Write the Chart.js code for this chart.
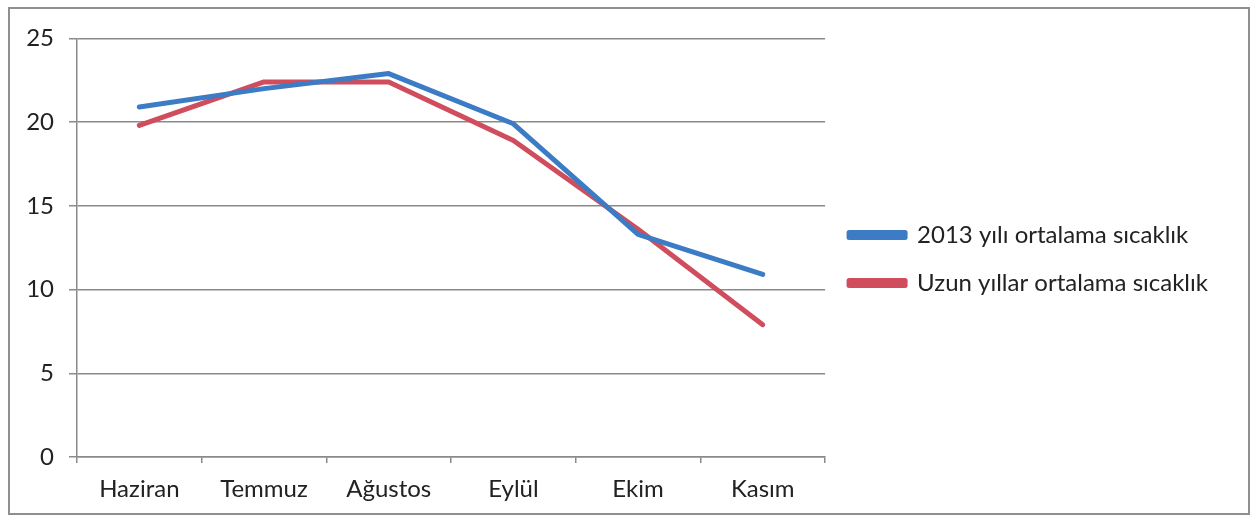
<!DOCTYPE html>
<html>
<head>
<meta charset="utf-8">
<script src="https://cdn.jsdelivr.net/npm/chart.js@4/dist/chart.umd.min.js"></script>
<style>
  html, body { margin: 0; padding: 0; background: #fff; }
  #frame {
    position: absolute; left: 8px; top: 7px;
    width: 1238px; height: 504px;
    border: 2px solid #8f8f8f;
  }
  canvas { display: block; }
</style>
</head>
<body>
<div id="frame"><canvas id="tempChart" width="1238" height="504"></canvas></div>
<script>
  // categories and series
  const months = ['Haziran', 'Temmuz', 'Ağustos', 'Eylül', 'Ekim', 'Kasım'];
  const avg2013 = [20.9, 22.0, 22.9, 19.9, 13.3, 10.9];
  const longTermAvg = [19.8, 22.4, 22.4, 18.9, 13.6, 7.9];
  const yTicks = [0, 5, 10, 15, 20, 25];

  const gridGray = '#8a8a8a';
  const textFont = { family: 'Lato', size: 24 };

  new Chart(document.getElementById('tempChart'), {
    type: 'line',
    data: {
      labels: months,
      datasets: [
        {
          label: '2013 yılı ortalama sıcaklık',
          data: avg2013,
          borderColor: '#3b7cc4',
          backgroundColor: '#3b7cc4',
          borderWidth: 5,
          pointRadius: 0,
          tension: 0,
          borderCapStyle: 'round',
          borderJoinStyle: 'round'
        },
        {
          label: 'Uzun yıllar ortalama sıcaklık',
          data: longTermAvg,
          borderColor: '#cf4d5d',
          backgroundColor: '#d46a7a',
          borderWidth: 5,
          pointRadius: 0,
          tension: 0,
          borderCapStyle: 'round',
          borderJoinStyle: 'round'
        }
      ]
    },
    options: {
      responsive: false,
      animation: false,
      layout: { padding: { top: 29, left: 10, right: 30, bottom: 0 } },
      plugins: {
        tooltip: { enabled: false },
        legend: {
          position: 'right',
          align: 'start',
          maxWidth: 500,
          // empty title only used to push the two rows down to mid height
          title: { display: true, text: ' ', font: { size: 10 }, padding: { top: 149, bottom: 0 } },
          labels: {
            font: textFont,
            color: '#222',
            boxWidth: 56,
            boxHeight: 5,
            padding: 24
          }
        }
      },
      scales: {
        x: {
          offset: true,
          grid: {
            display: true,
            drawOnChartArea: false,
            offset: true,
            color: gridGray,
            lineWidth: 1.5,
            tickLength: 6
          },
          border: { color: gridGray, width: 1.5 },
          ticks: { font: textFont, color: '#222', padding: 12 },
          afterFit: s => { s.height = 56; }
        },
        y: {
          min: 0,
          max: 25,
          afterBuildTicks: s => { s.ticks = yTicks.map(v => ({ value: v })); },
          grid: { color: gridGray, lineWidth: 1.5, tickLength: 8 },
          border: { color: gridGray, width: 1.5 },
          ticks: { font: textFont, color: '#222', padding: 15 },
          afterFit: s => { s.width = 57; }
        }
      }
    }
  });
</script>
</body>
</html>
